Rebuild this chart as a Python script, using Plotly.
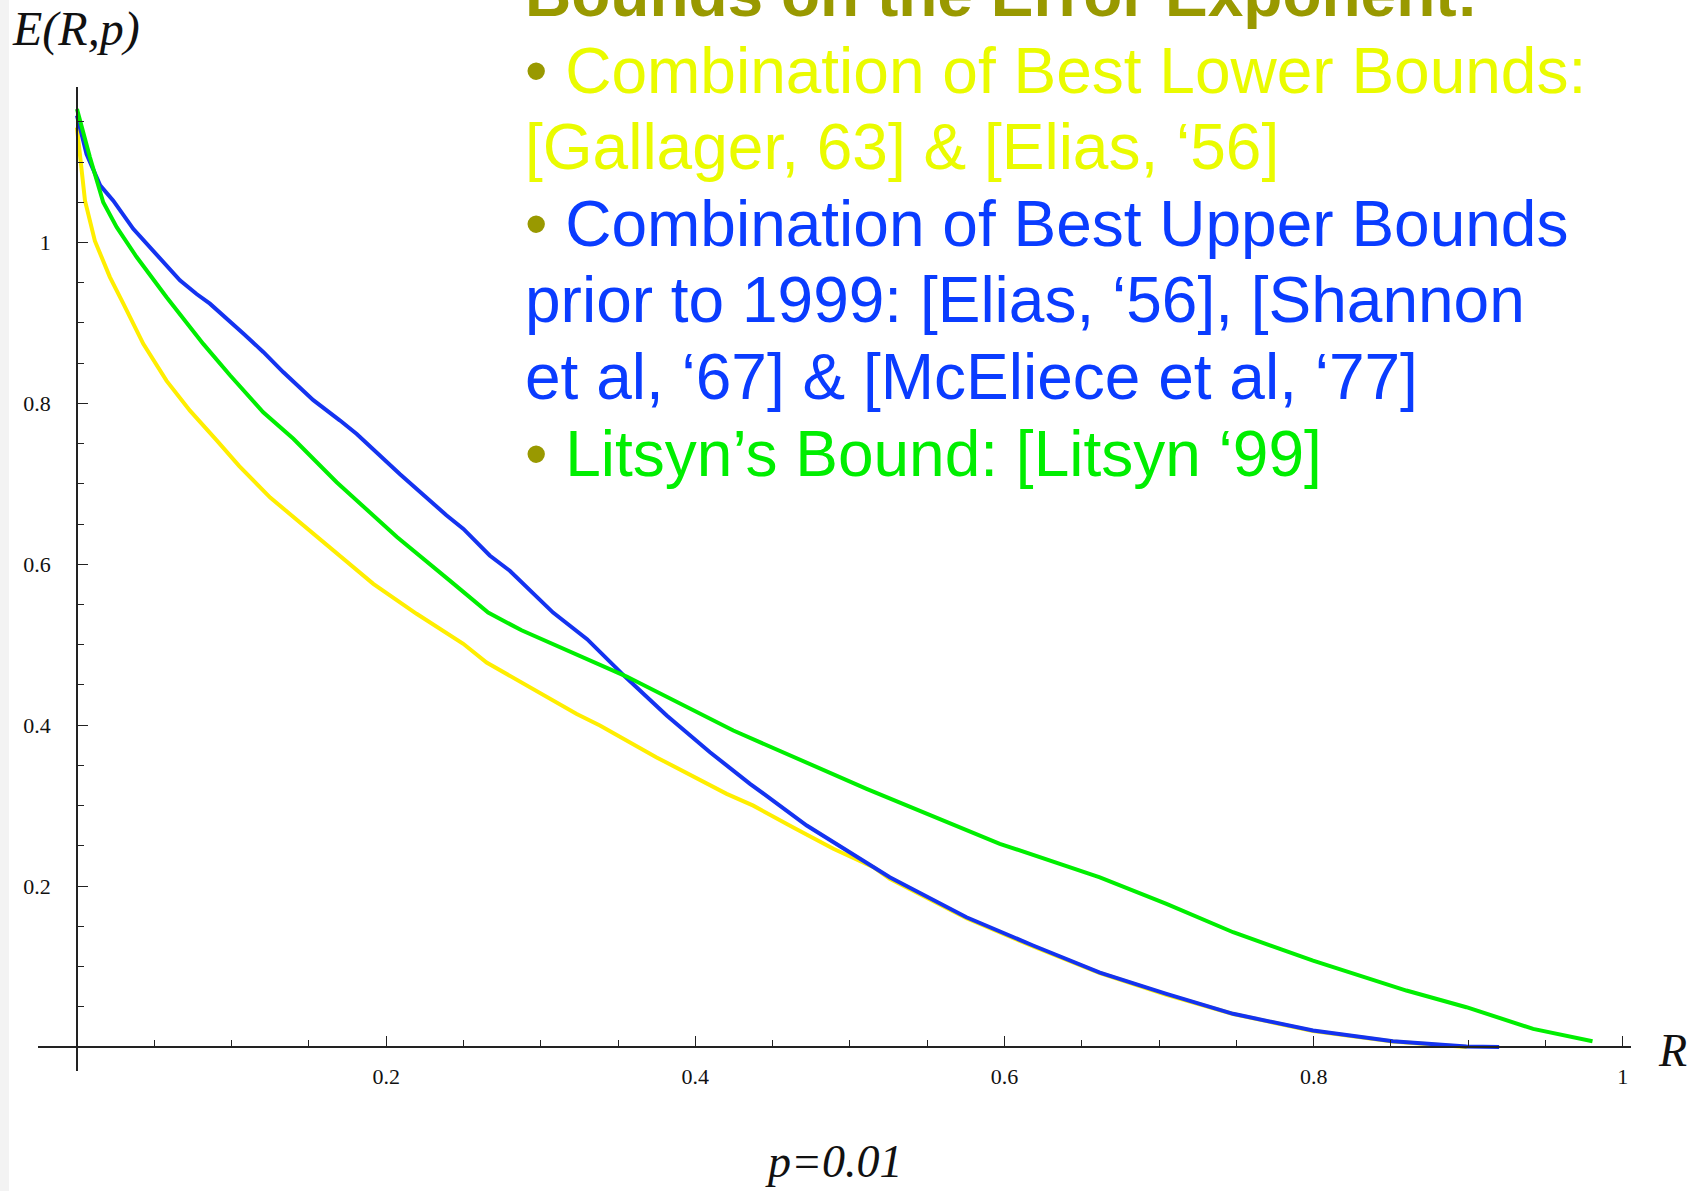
import plotly.graph_objects as go

# ---------------- data ----------------
lower_R = [0, 0.0052, 0.0116, 0.0213, 0.030, 0.0429, 0.058, 0.0731, 0.0904, 0.105, 0.125,
           0.1442, 0.1615, 0.1917, 0.2197, 0.2499, 0.265, 0.293, 0.3233, 0.3383,
           0.375, 0.4203, 0.4375, 0.4634, 0.4893, 0.5152, 0.5258, 0.5754, 0.6185, 0.6617,
           0.7048, 0.7479, 0.7996, 0.8513, 0.899]
lower_E = [1.143, 1.052, 1.002, 0.957, 0.924, 0.874, 0.828, 0.791, 0.754, 0.722, 0.683,
           0.652, 0.6255, 0.5758, 0.5385, 0.5012, 0.478, 0.447, 0.414, 0.3996,
           0.360, 0.3147, 0.300, 0.273, 0.2464, 0.2235, 0.209, 0.160, 0.125, 0.092,
           0.065, 0.041, 0.020, 0.007, 0.0]

upper_R = [0, 0.0062, 0.015, 0.0235, 0.0364, 0.0472, 0.056, 0.0666, 0.0774, 0.086, 0.1076,
           0.1205, 0.1334, 0.1529, 0.170, 0.181, 0.209, 0.239, 0.250, 0.267, 0.280, 0.308,
           0.330, 0.3383, 0.3545, 0.3815, 0.4095, 0.4354, 0.4721, 0.5258, 0.5754, 0.6185,
           0.6617, 0.7048, 0.7479, 0.7996, 0.8513, 0.8988, 0.920]
upper_E = [1.158, 1.110, 1.071, 1.052, 1.017, 0.994, 0.974, 0.953, 0.936, 0.924, 0.887,
           0.864, 0.839, 0.804, 0.779, 0.762, 0.712, 0.661, 0.644, 0.611, 0.592, 0.540,
           0.507, 0.4907, 0.4605, 0.412, 0.3664, 0.3272, 0.2753, 0.211, 0.1613, 0.1262,
           0.0925, 0.0661, 0.0413, 0.0205, 0.0072, 0.0006, 0.0]

litsyn_R = [0, 0.0084, 0.017, 0.0257, 0.0386, 0.058, 0.0817, 0.099, 0.1205, 0.140, 0.168,
            0.207, 0.241, 0.266, 0.2876, 0.3556, 0.4246, 0.5108, 0.597, 0.6617, 0.7048,
            0.7479, 0.7996, 0.860, 0.8988, 0.942, 0.9804]
litsyn_E = [1.166, 1.106, 1.050, 1.019, 0.982, 0.932, 0.874, 0.835, 0.789, 0.756, 0.702,
            0.634, 0.580, 0.540, 0.518, 0.4605, 0.3934, 0.3209, 0.2526, 0.211, 0.178,
            0.1427, 0.1075, 0.0702, 0.0495, 0.0226, 0.0072]

tick_vals = [0.2, 0.4, 0.6, 0.8, 1]
tick_text = ["0.2", "0.4", "0.6", "0.8", "1"]

text_lines = [
    "<b>Bounds on the Error Exponent:</b>",
    "<span style='color:#999900'>\u2022</span> Combination of Best Lower Bounds:",
    "[Gallager, 63] &amp; [Elias, \u201856]",
    "<span style='color:#999900'>\u2022</span> Combination of Best Upper Bounds",
    "prior to 1999: [Elias, \u201856], [Shannon",
    "et al, \u201867] &amp; [McEliece et al, \u201877]",
    "<span style='color:#999900'>\u2022</span> Litsyn\u2019s Bound: [Litsyn \u201899]",
]
text_colors = ["#999900", "#EAFB00", "#EAFB00", "#0A3CFF", "#0A3CFF", "#0A3CFF", "#00EE00"]

# ---------------- layout geometry ----------------
W, H = 1702, 1191
ML, MR, MT, MB = 38, 71, 87, 120
XR = [-0.0252, 1.0053]
YR = [-0.0298, 1.1933]
PW, PH = W - ML - MR, H - MT - MB


def px(x):
    return (x - ML) / PW


def py(y):
    return (H - MB - y) / PH


YELLOW, BLUE, GREEN = "#FFEE00", "#1433F0", "#00EE00"

fig = go.Figure()
fig.add_trace(go.Scatter(x=lower_R, y=lower_E, mode="lines",
                         line=dict(color=YELLOW, width=4), showlegend=False))
fig.add_trace(go.Scatter(x=upper_R, y=upper_E, mode="lines",
                         line=dict(color=BLUE, width=4), showlegend=False))
fig.add_trace(go.Scatter(x=litsyn_R, y=litsyn_E, mode="lines",
                         line=dict(color=GREEN, width=4), showlegend=False))

axis_common = dict(
    showgrid=False, zeroline=False, showline=True, linecolor="#222222", linewidth=1.6,
    ticks="inside", ticklen=10, tickwidth=1.3, tickcolor="#222222",
    tickvals=tick_vals, ticktext=tick_text,
    tickfont=dict(family="Liberation Serif", size=22, color="#111111"),
    minor=dict(dtick=0.05, tick0=0, ticks="inside", ticklen=6, tickwidth=1.2,
               tickcolor="#222222", showgrid=False),
    anchor="free",
)

fig.update_layout(
    width=W, height=H,
    margin=dict(l=ML, r=MR, t=MT, b=MB),
    paper_bgcolor="white", plot_bgcolor="white",
    xaxis=dict(range=XR, position=(0 - YR[0]) / (YR[1] - YR[0]),
               ticklabelstandoff=10, **axis_common),
    yaxis=dict(range=YR, position=(0 - XR[0]) / (XR[1] - XR[0]),
               ticklabelstandoff=21, **axis_common),
    showlegend=False,
)

# light grey slide edge at the far left
fig.add_shape(type="rect", xref="paper", yref="paper",
              x0=px(0), x1=px(9), y0=py(H + 20), y1=py(-20),
              fillcolor="#F3F3F3", line=dict(width=0), layer="below")

annotations = []
# axis labels
annotations.append(dict(text="<i>E(R,p)</i>", xref="paper", yref="paper",
                        x=px(10), y=py(29), xanchor="left", yanchor="middle",
                        showarrow=False,
                        font=dict(family="Liberation Serif", size=48, color="#111111")))
annotations.append(dict(text="<i>R</i>", xref="paper", yref="paper",
                        x=px(1672), y=py(1050), xanchor="center", yanchor="middle",
                        showarrow=False,
                        font=dict(family="Liberation Serif", size=46, color="#111111")))
annotations.append(dict(text="<i>p=0.01</i>", xref="paper", yref="paper",
                        x=px(834), y=py(1161), xanchor="center", yanchor="middle",
                        showarrow=False,
                        font=dict(family="Liberation Serif", size=46, color="#111111")))

# slide text block
baseline0 = 16
line_step = 76.6
for i, (t, c) in enumerate(zip(text_lines, text_colors)):
    base = baseline0 + i * line_step
    annotations.append(dict(text=t, xref="paper", yref="paper",
                            x=px(523), y=py(base - 22), xanchor="left", yanchor="middle",
                            showarrow=False,
                            font=dict(family="Liberation Sans", size=64, color=c)))

fig.update_layout(annotations=annotations)

fig.write_html(
    "out.html",
    config={"displayModeBar": False},
    post_script="document.body.style.margin='0px';document.body.style.overflow='hidden';",
)
